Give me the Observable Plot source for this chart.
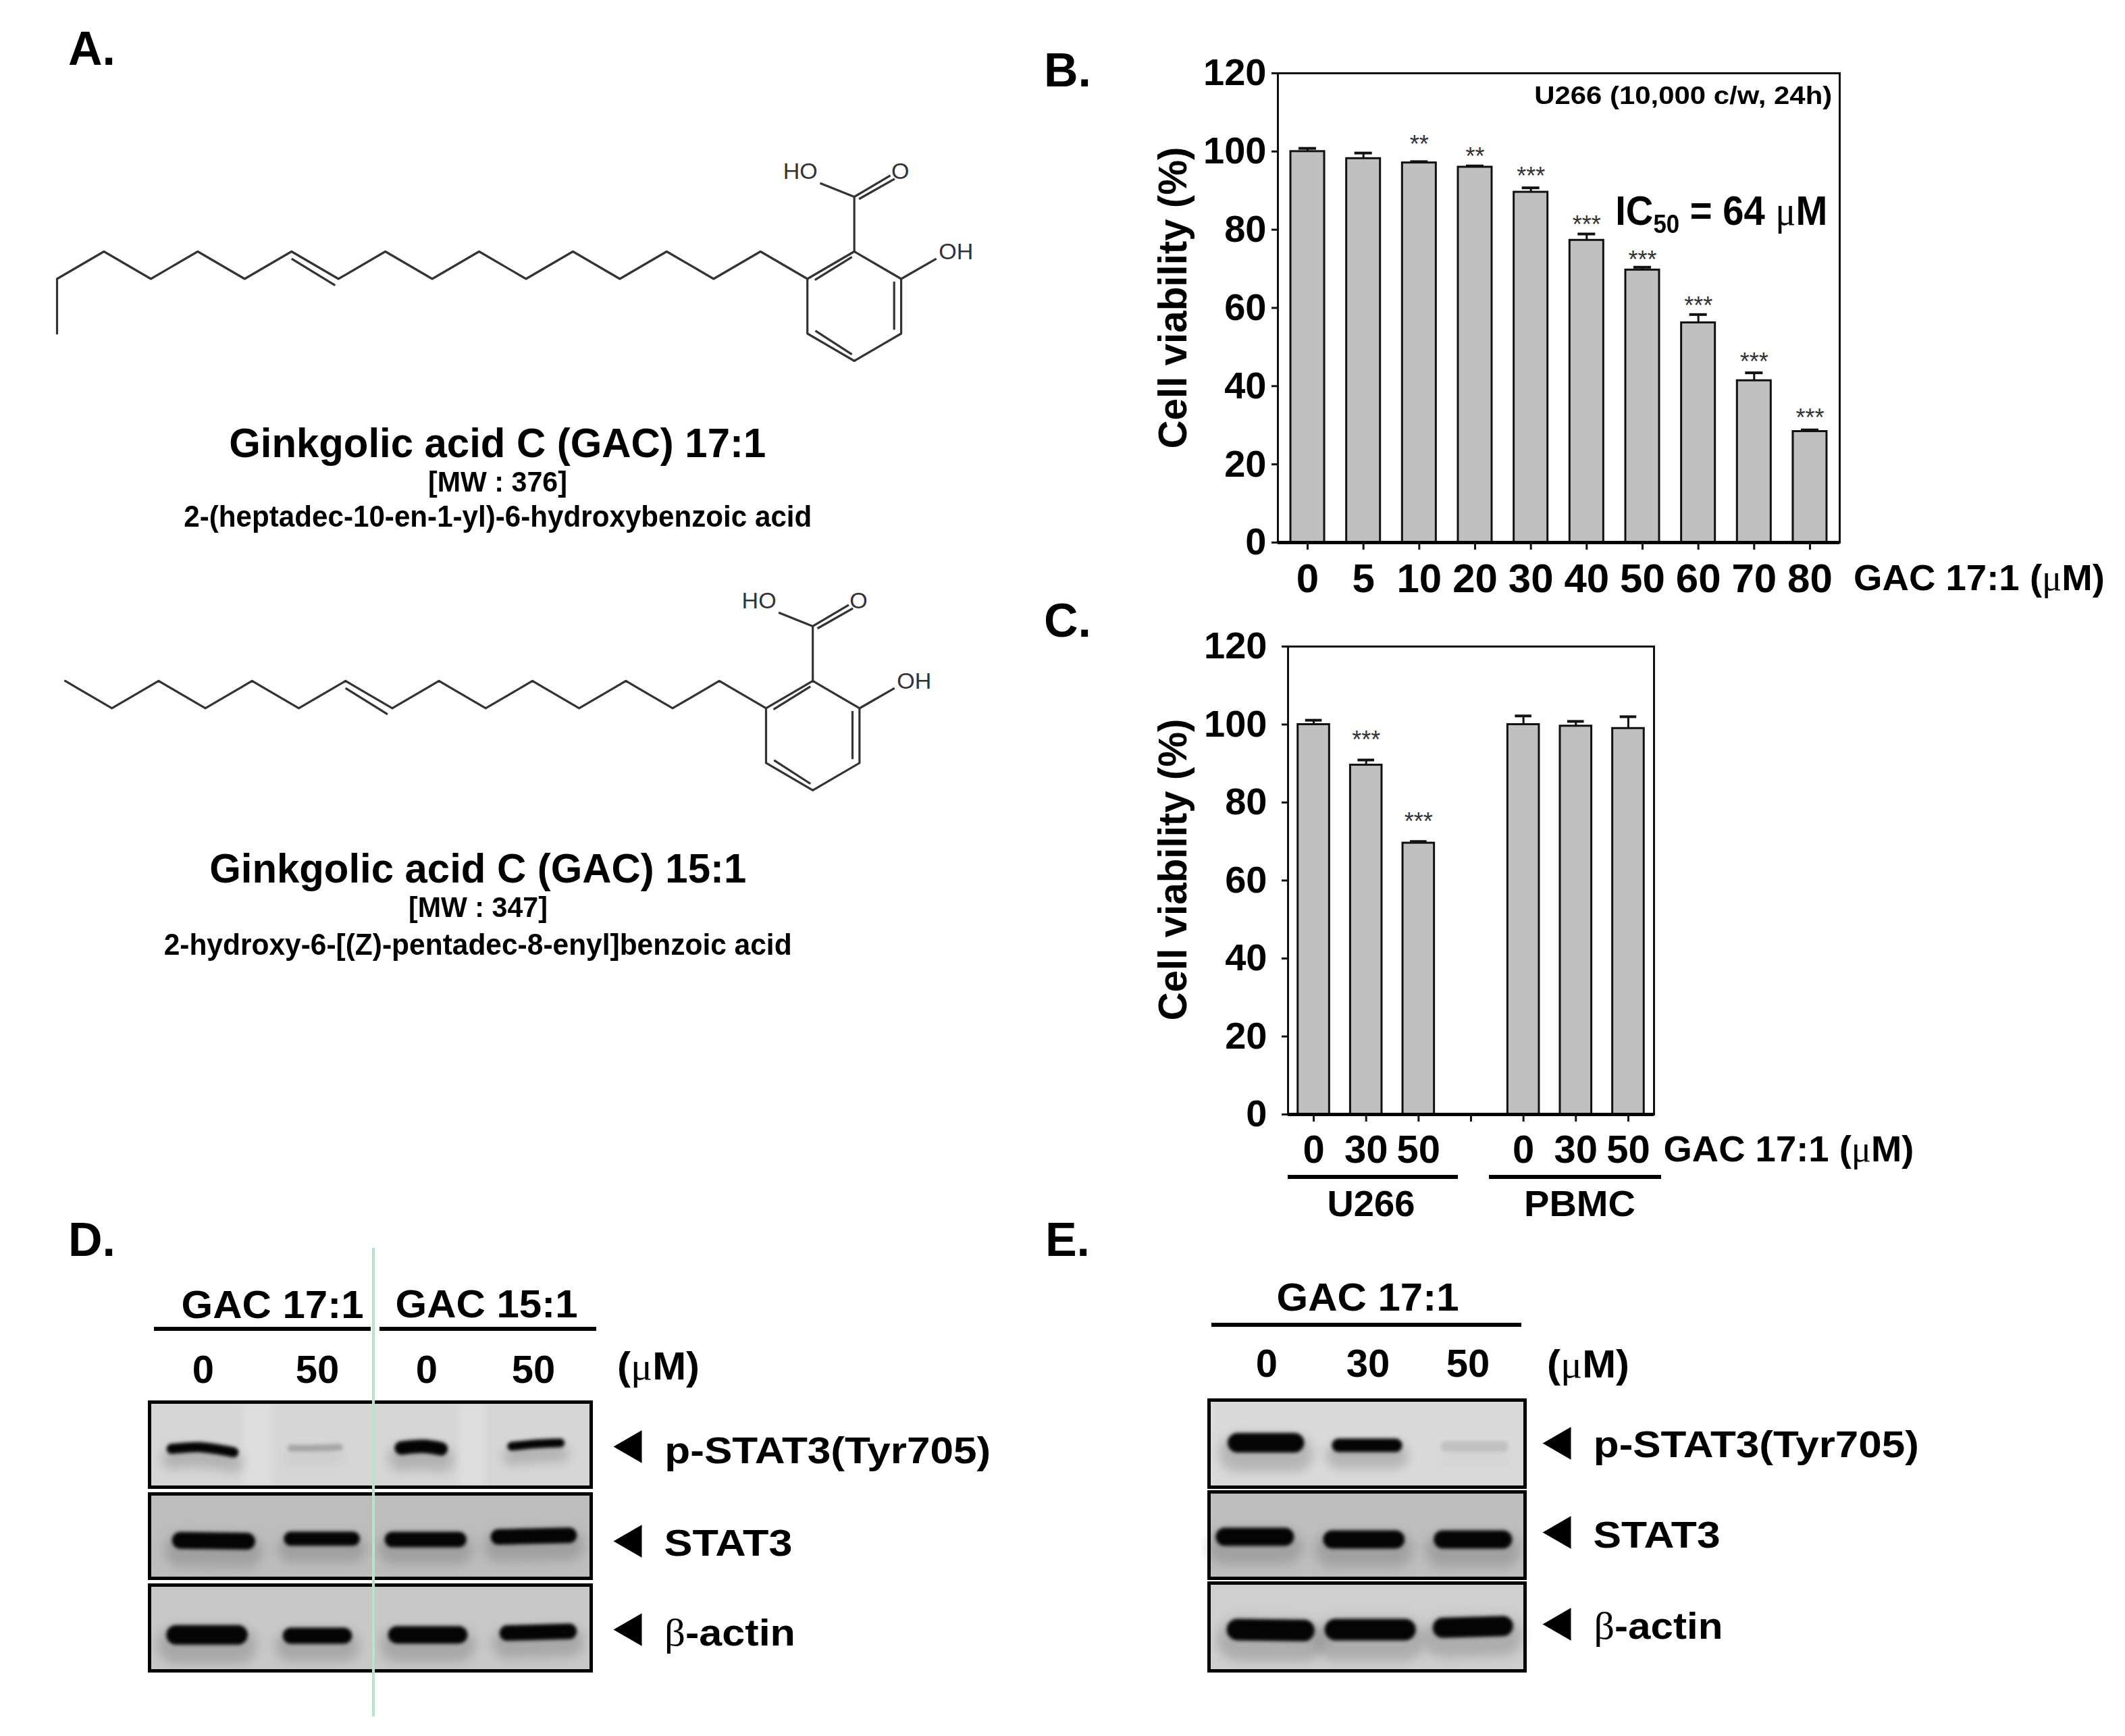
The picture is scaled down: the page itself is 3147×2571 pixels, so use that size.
<!DOCTYPE html>
<html><head><meta charset="utf-8">
<script src="https://cdn.jsdelivr.net/npm/d3@7"></script>
<script src="https://cdn.jsdelivr.net/npm/@observablehq/plot@0.6"></script>
<style>
html,body{margin:0;background:#fff}
#page{position:relative;width:3147px;height:2571px;overflow:hidden;font-family:"Liberation Sans",Arial,sans-serif;color:#000}
#page svg{position:absolute;max-width:none;height:auto;overflow:visible;background:transparent}
.t{position:absolute;white-space:nowrap;font-weight:bold;line-height:1;transform-origin:center center}
.mu{font-family:"Liberation Serif",serif;font-weight:normal}
.bar{position:absolute;background:#000}
</style></head><body><div id="page"></div>
<script>
// ---------- Data: panel B ----------
const doseB = ["0","5","10","20","30","40","50","60","70","80"];
const viabilityB = [100,98.2,97.1,96,89.6,77.3,69.7,56.2,41.4,28.4];
const upperB = [100.8,99.6,97.4,96.3,90.7,78.9,70.4,58.3,43.4,28.8];
const starsB = ["","","**","**","***","***","***","***","***","***"];
const starLevelB = [null,null,102.5,99.4,94.5,82,73,61.3,47,32.6];
// ---------- Data: panel C ----------
const groupC = ["U0","U30","U50","gap","P0","P30","P50"];
const doseC = ["0","30","50","","0","30","50"];
const viabilityC = [100,89.6,69.6,null,100,99.6,99];
const upperC = [101.1,90.9,70,null,102.2,100.8,102];
const starsC = ["","***","***","","","",""];
const starLevelC = [null,96.8,75.9,null,null,null,null];
// ---------- Data: structures (lattice units: column, bond length) ----------
const chain17Col = [0,0,1,2,3,4,5,6,7,8,9,10,11,12,13,14,15,16];
const chain17Lev = [1.5,.5,0,.5,0,.5,0,.5,0,.5,0,.5,0,.5,0,.5,0,.5];
const chain15Col = [0,1,2,3,4,5,6,7,8,9,10,11,12,13,14,15];
const chain15Lev = [0,.5,0,.5,0,.5,0,.5,0,.5,0,.5,0,.5,0,.5];
const ringCol = [0,1,2,2,1,0,0];
const ringLev = [.5,0,.5,1.5,2,1.5,.5];
// extra bonds relative to the ring's left column: [col1, lev1, col2, lev2]
const ringBonds = [
  [.16,.52,.95,.1],[1.85,.55,1.85,1.43],[.17,1.45,.95,1.88],
  [1,0,1,-1],[1,-1,.27,-1.25],[1,-1,1.77,-1.39],[1.1,-.96,1.86,-1.33],[2,.5,2.75,.13]
];
const atomCol = [-.15,1.98,3.17];
const atomLev = [-1.46,-1.46,.01];
const atomName = ["HO","O","OH"];
const doubleBond17 = [5,.13,5.93,.62];
const doubleBond15 = [6,.13,6.9,.61];
// ---------- Data: blots (x, y in % of membrane; ink 0-1) ----------
const blotD = {
  p:[[[5,55],[11,53],[16,56],[19,59]],[[32,54],[38,54],[43,53]],[[57,54],[62,52],[66,55]],[[82,52],[88,49],[93,48]]],
  s:[[[7,55],[22,56]],[[32,53],[46,53]],[[55,54],[70,54]],[[79,51],[95,49]]],
  a:[[[6,58],[20,58]],[[32,59],[44,59]],[[56,58],[70,58]],[[81,56],[95,54]]]
};
const inkD = {p:[1,.22,1,1],s:[1,1,1,1],a:[1,1,1,1]};
const thickD = {p:[15,10,20,13],s:[25,21,23,23],a:[29,24,26,23]};
const shadeD = {p:"#d6d6d6",s:"#bdbdbd",a:"#c8c8c8"};
const lanesD = {p:[[21,28],[70,76]],s:[],a:[]};
const blotE = {
  p:[[[9,49],[27,49]],[[41,52],[59,52]],[[75,53],[93,53]]],
  s:[[[5,52],[24,52]],[[39,55],[59,55]],[[74,55],[93,55]]],
  a:[[[9,53],[30,54]],[[40,53],[62,53]],[[74,51],[93,49]]]
};
const inkE = {p:[1,1,.1],s:[1,1,1],a:[1,1,1]};
const thickE = {p:[29,20,16],s:[27,27,27],a:[32,32,30]};
const shadeE = {p:"#dadada",s:"#bebebe",a:"#cfcfcf"};
const lanesE = {p:[],s:[],a:[]};

const page = document.getElementById("page");
const SANS = '"Liberation Sans",Arial,sans-serif';
function place(svg,left,top){svg.style.left=left+"px";svg.style.top=top+"px";page.appendChild(svg);return svg;}
function label(html,cx,cy,size,w,rot,weight){
  const e=document.createElement("div");e.className="t";e.innerHTML=html;e.style.fontSize=size+"px";
  if(weight)e.style.fontWeight=weight;
  page.appendChild(e);
  const r=e.getBoundingClientRect();
  e.style.left=(cx-r.width/2)+"px";e.style.top=(cy-r.height/2)+"px";
  const sx=w?w/r.width:1;
  e.style.transform=(rot?`rotate(${rot}deg) `:"")+`scaleX(${sx})`;
  return e;
}
function bar(x1,x2,y,h,color){
  const e=document.createElement("div");e.className="bar";
  e.style.cssText=`left:${x1}px;width:${x2-x1}px;top:${y-h/2}px;height:${h}px;background:${color||"#000"}`;
  page.appendChild(e);
}
const MU='<span class="mu">μ</span>';

// ---------- bar charts ----------
function barChart(o){
  const rows=o.domain.map((k,i)=>({k,v:o.values[i],u:o.upper[i],s:o.stars[i],sl:o.starLevel[i]}));
  const real=rows.filter(d=>d.v!=null);
  const svg=Plot.plot({
    width:o.w+o.ml+30,height:o.h+40+110,marginLeft:o.ml,marginRight:30,marginTop:40,marginBottom:110,
    style:{fontFamily:SANS,fontWeight:"bold",fontSize:"50px",color:"#000",background:"transparent"},
    x:{type:"band",domain:o.domain,paddingInner:o.pi,paddingOuter:o.po,label:null,align:.5,round:false},
    y:{domain:[0,120],label:null},
    marks:[
      Plot.barY(real,{x:"k",y:"v",fill:"#c0c0c0",stroke:"#111",strokeWidth:3}),
      Plot.ruleX(real,{x:"k",y1:"v",y2:"u",stroke:"#111",strokeWidth:3}),
      Plot.tickY(real,{x:"k",y:"u",stroke:"#111",strokeWidth:4,insetLeft:o.cap,insetRight:o.cap}),
      Plot.text(real.filter(d=>d.s),{x:"k",y:"sl",text:"s",dy:5,fontSize:36,fontWeight:"normal",fill:"#333",lineAnchor:"middle"}),
      Plot.frame({stroke:"#111",strokeWidth:3}),
      Plot.ruleY([0],{stroke:"#000",strokeWidth:5}),
      Plot.axisY({ticks:[0,20,40,60,80,100,120],tickSize:9,tickPadding:o.typ,label:null,strokeWidth:3,stroke:"#111",fontSize:56}),
      Plot.axisX({tickSize:11,tickPadding:o.txp,label:null,strokeWidth:3,stroke:"#111",tickFormat:o.fmt,fontSize:o.xfs})
    ]
  });
  place(svg,o.x-o.ml,o.y-40);
}
barChart({x:1892,y:108,w:832,h:695,ml:130,domain:doseB,values:viabilityB,upper:upperB,stars:starsB,starLevel:starLevelB,pi:.395,po:.23,cap:12,typ:8,txp:20,xfs:60,fmt:d=>d});
barChart({x:1907,y:957,w:542,h:693,ml:130,domain:groupC,values:viabilityC,upper:upperC,stars:starsC,starLevel:starLevelC,pi:.40,po:.19,cap:11,typ:22,txp:19,xfs:58,fmt:d=>doseC[groupC.indexOf(d)]});

label("Cell viability (%)",1737,441,60,447,-90);
label("Cell viability (%)",1737,1288,60,447,-90);
label("U266 (10,000 c/w, 24h)",2493,141,37,441);
label(`IC<sub style="font-size:.62em;line-height:0;vertical-align:-.32em">50</sub> = 64 ${MU}M`,2549,312,62,314);
label(`GAC 17:1 (${MU}M)`,2931,855,54,372);
label(`GAC 17:1 (${MU}M)`,2649,1701,54,371);
bar(1907,2159,1743,6);bar(2205,2460,1743,6);
label("U266",2031,1782,54,130);
label("PBMC",2339,1782,54,165);

// ---------- panel letters ----------
[["A.",136,72],["B.",1581,104],["C.",1581,919],["D.",136,1836],["E.",1581,1836]].forEach(d=>label(d[0],d[1],d[2],70));

// ---------- structures ----------
function structure(o){
  const chain=o.col.map((c,i)=>({c,l:o.lev[i]}));
  const shift=o.ring;
  const ring=ringCol.map((c,i)=>({c:c+shift,l:ringLev[i]}));
  const bonds=ringBonds.concat([]).map(b=>({c1:b[0]+shift,l1:b[1],c2:b[2]+shift,l2:b[3]}));
  const db=o.dbl;bonds.push({c1:db[0],l1:db[1],c2:db[2],l2:db[3]});
  const atoms=atomName.map((n,i)=>({n,c:atomCol[i]+shift,l:atomLev[i]}));
  const cols=shift+4,levs=[-2,3];
  const svg=Plot.plot({
    width:cols*o.dx,height:5*o.dy,margin:0,
    x:{domain:[0,cols],range:[0,cols*o.dx]},
    y:{domain:levs,range:[0,5*o.dy]},
    axis:null,
    style:{fontFamily:SANS,background:"transparent"},
    marks:[
      Plot.line(chain,{x:"c",y:"l",stroke:"#333",strokeWidth:3.2,curve:"linear"}),
      Plot.line(ring,{x:"c",y:"l",stroke:"#333",strokeWidth:3.2,curve:"linear"}),
      Plot.link(bonds,{x1:"c1",y1:"l1",x2:"c2",y2:"l2",stroke:"#333",strokeWidth:3.2,markerEnd:"none"}),
      Plot.text(atoms,{x:"c",y:"l",text:"n",fontSize:34,fill:"#333"})
    ]
  });
  place(svg,o.x0,o.y0-2*o.dy);
}
structure({col:chain17Col,lev:chain17Lev,ring:16,dbl:doubleBond17,x0:84,y0:372,dx:69.45,dy:81});
structure({col:chain15Col,lev:chain15Lev,ring:15,dbl:doubleBond15,x0:96,y0:1008,dx:69.2,dy:81});

label("Ginkgolic acid C (GAC) 17:1",737,656,62,795);
label("[MW : 376]",737,714,42,206);
label("2-(heptadec-10-en-1-yl)-6-hydroxybenzoic acid",737,765,44,930);
label("Ginkgolic acid C (GAC) 15:1",708,1286,62,795);
label("[MW : 347]",708,1344,42,206);
label("2-hydroxy-6-[(Z)-pentadec-8-enyl]benzoic acid",708,1399,44,930);

// ---------- blots ----------
function blot(o){
  const marks=[Plot.rectY([0],{x1:0,x2:100,y1:0,y2:100,fill:o.shade})];
  const lanes=o.lanes.map(l=>({a:l[0],b:l[1]}));
  marks.push(Plot.rect(lanes,{x1:"a",x2:"b",y1:0,y2:100,fill:"#fff",fillOpacity:.2,imageFilter:"blur(6px)"}));
  o.bands.forEach((pts,b)=>{
    const line=pts.map(p=>({x:p[0],y:p[1]}));
    const halo=pts.map(p=>({x:p[0],y:p[1]+12}));
    marks.push(Plot.line(halo,{x:"x",y:"y",stroke:"#555",strokeOpacity:.28*o.ink[b],strokeWidth:o.thick[b]*1.9,strokeLinecap:"round",curve:"catmull-rom",imageFilter:"blur(8px)"}));
    marks.push(Plot.line(line,{x:"x",y:"y",stroke:"#040404",strokeOpacity:o.ink[b],strokeWidth:o.thick[b],strokeLinecap:"round",curve:"catmull-rom",imageFilter:"blur(2.5px)"}));
  });
  marks.push(Plot.frame({stroke:"#000",strokeWidth:5}));
  marks.push(Plot.dot([{x:o.arrowX,y:o.arrowY}],{x:"x",y:"y",symbol:"triangle",r:18,fill:"#000",stroke:null,rotate:-90,clip:false}));
  const svg=Plot.plot({
    width:o.w+110,height:o.h,marginLeft:0,marginRight:110,marginTop:0,marginBottom:0,
    x:{domain:[0,100],range:[0,o.w]},y:{domain:[100,0],range:[o.h,0]},axis:null,
    style:{background:"transparent"},marks
  });
  place(svg,o.x,o.y);
}
function blotPanel(P){
  const keys=["p","s","a"];
  keys.forEach((k,i)=>{
    blot({x:P.x,y:P.ys[i][0],w:P.w,h:P.ys[i][1]-P.ys[i][0],bands:P.b[k],ink:P.i[k],thick:P.t[k],shade:P.s[k],lanes:P.l[k],
      arrowX:(P.ax-P.x)/P.w*100,arrowY:(P.ay[i]-P.ys[i][0])/(P.ys[i][1]-P.ys[i][0])*100});
    label(P.names[i],(P.lx[i][0]+P.lx[i][1])/2,P.ly[i],56,P.lx[i][1]-P.lx[i][0]);
  });
}
const names=["p-STAT3(Tyr705)","STAT3",'<span class="mu">β</span>-actin'];
blotPanel({x:221,w:654,ys:[[2076,2202],[2212,2337],[2347,2474]],b:blotD,i:inkD,t:thickD,s:shadeD,l:lanesD,ax:936,ay:[2142,2282,2413],names,
  lx:[[984,1467],[984,1174],[984,1178]],ly:[2148,2285,2418]});
blotPanel({x:1790,w:468,ys:[[2073,2202],[2209,2337],[2344,2474]],b:blotE,i:inkE,t:thickE,s:shadeE,l:lanesE,ax:2312,ay:[2137,2269,2405],names,
  lx:[[2360,2842],[2360,2548],[2360,2551]],ly:[2139,2273,2408]});

label("GAC 17:1",404,1932,58,270);label("GAC 15:1",721,1931,58,270);
bar(228,549,1968,6);bar(562,883,1968,6);
[["0",301],["50",470],["0",632],["50",790]].forEach(d=>label(d[0],d[1],2028,58));
label(`(${MU}M)`,975,2023,58,122);
label("GAC 17:1",2026,1921,58,270);bar(1794,2253,1962,6);
[["0",1876],["30",2026],["50",2174]].forEach(d=>label(d[0],d[1],2019,58));
label(`(${MU}M)`,2352,2020,58,122);
// colour seam across panel D
bar(551,554.5,1848+347,694,"#b5e4ca");
</script></body></html>
